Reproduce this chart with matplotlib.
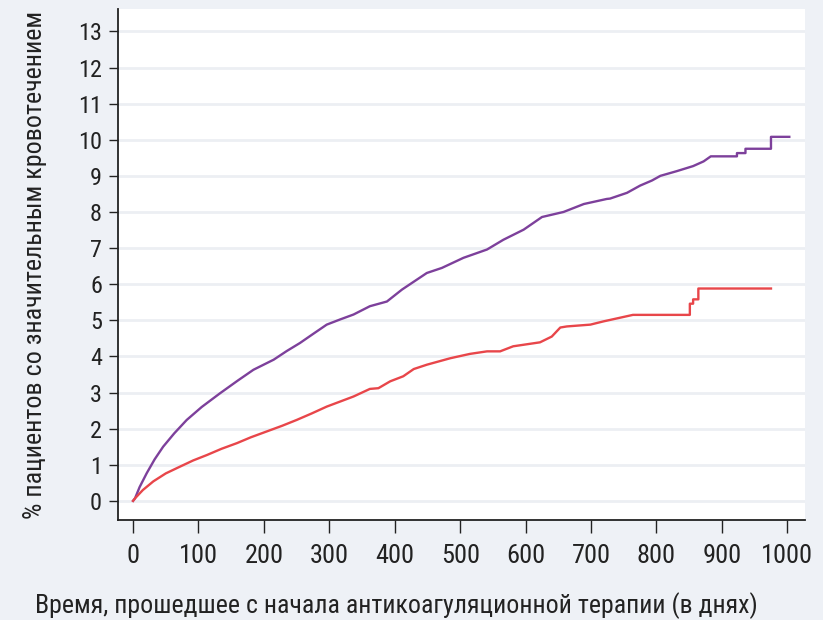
import matplotlib
matplotlib.use('Agg')
import matplotlib.pyplot as plt

# cumulative % of patients with major bleeding vs. days since start of anticoagulation
days_purple = [0, 3, 10, 21, 33, 46, 63, 82, 105, 133, 160, 184, 215, 235, 255, 275, 296,
               316, 337, 362, 388, 411, 449, 472, 505, 541, 566, 597, 625, 658, 689, 724,
               729, 755, 775, 793, 806, 831, 856, 872, 883, 923, 923, 936, 936, 975, 975,
               1003]
pct_purple = [0, 0.07, 0.38, 0.77, 1.15, 1.5, 1.87, 2.24, 2.6, 2.98, 3.33, 3.63, 3.91,
              4.15, 4.37, 4.62, 4.88, 5.02, 5.16, 5.39, 5.52, 5.85, 6.31, 6.45, 6.73, 6.96,
              7.23, 7.51, 7.86, 8.0, 8.22, 8.36, 8.37, 8.53, 8.73, 8.87, 9.0, 9.13, 9.27,
              9.4, 9.54, 9.54, 9.63, 9.63, 9.75, 9.75, 10.08, 10.08]

days_red = [0, 3, 15, 31, 50, 72, 92, 113, 135, 159, 180, 204, 228, 250, 273, 296, 318,
            337, 362, 375, 393, 413, 429, 449, 485, 515, 541, 561, 581, 622, 640, 653, 663,
            699, 719, 734, 764, 851, 851, 856, 856, 864, 864, 975]
pct_red = [0, 0.07, 0.3, 0.54, 0.76, 0.95, 1.12, 1.27, 1.44, 1.6, 1.76, 1.92, 2.08, 2.24,
           2.42, 2.61, 2.76, 2.89, 3.1, 3.12, 3.31, 3.45, 3.65, 3.77, 3.95, 4.07, 4.14, 4.14,
           4.28, 4.39, 4.55, 4.8, 4.83, 4.88, 4.97, 5.03, 5.15, 5.15, 5.46, 5.46, 5.58, 5.58,
           5.88, 5.88]

x_ticks = list(range(0, 1001, 100))
y_ticks = list(range(0, 14))

plt.rcParams['font.family'] = ['Roboto Condensed', 'Archivo Narrow', 'DejaVu Sans']

fig = plt.figure(figsize=(8.23, 6.2), dpi=100, facecolor='#eef1f6')
ax = fig.add_axes([118/823, 100/620, (805-118)/823, (520-9)/620])
ax.set_facecolor('white')

for yv in y_ticks:
    ax.axhline(yv, color='#eceff3', lw=2, zorder=0)

ax.plot(days_purple, pct_purple, color='#7d409b', lw=1.7)
ax.plot(days_red, pct_red, color='#e8464a', lw=1.7)

ax.set_xlim(-23, 1027)
ax.set_ylim(-0.53, 13.62)
ax.set_xticks(x_ticks)
ax.set_yticks(y_ticks)

for side in ['top', 'right']:
    ax.spines[side].set_visible(False)
for side in ['left', 'bottom']:
    ax.spines[side].set_color('#222222')
    ax.spines[side].set_linewidth(1.3)

ax.tick_params(axis='y', length=6.5, width=1, pad=5, labelsize=17.5, colors='#222222')
ax.tick_params(axis='x', length=9.5, width=1, pad=8, labelsize=19, colors='#222222')

ax.set_xlabel('Время, прошедшее с начала антикоагуляционной терапии (в днях)',
              fontsize=18.6, color='#222222', va='center')
ax.xaxis.set_label_coords((396 - 118) / 687, (520 - 606) / 511)
ax.set_ylabel('% пациентов со значительным кровотечением',
              fontsize=18.7, color='#222222', va='center')
ax.yaxis.set_label_coords((35 - 118) / 687, 0.5)

fig.savefig('out.png', dpi=100, facecolor=fig.get_facecolor())
